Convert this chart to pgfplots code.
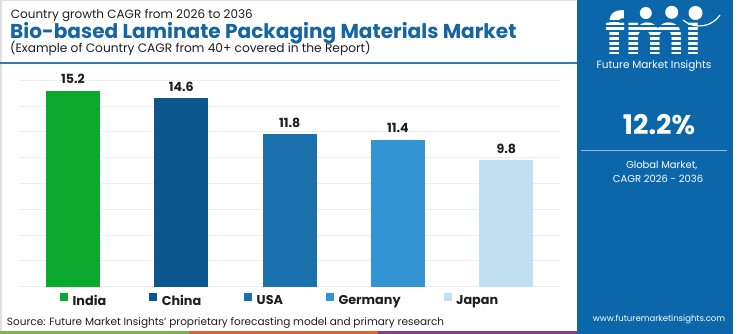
\documentclass[border=0pt]{standalone}
\usepackage{pgfplots}
\pgfplotsset{compat=1.18}
\usepackage{fontspec}
\setmainfont{Poppins}
\definecolor{cIndia}{HTML}{0BAA2E}
\definecolor{cChina}{HTML}{0A568D}
\definecolor{cUSA}{HTML}{1A71AD}
\definecolor{cGermany}{HTML}{3394D4}
\definecolor{cJapan}{HTML}{C3E0F2}
\definecolor{panel}{HTML}{0B67AA}
\definecolor{titleblue}{HTML}{1565A5}
\definecolor{titleline}{HTML}{2B7BBE}
\definecolor{gridc}{HTML}{EEEEEE}
\definecolor{sgreen}{HTML}{7CB342}
\definecolor{sorange}{HTML}{E0622A}
\definecolor{spurple}{HTML}{8E3A8E}
\definecolor{txt}{HTML}{1E1E1E}
\begin{document}
\begin{tikzpicture}[x=1pt,y=1pt]
\useasboundingbox (0,0) rectangle (750,334);
\fill[white] (0,0) rectangle (750,334);
% frame of chart area
\draw[black!12, line width=1.5pt] (0.75,3) -- (0.75,333.25) -- (576,333.25);
% bottom strip
\fill[sgreen] (0,0) rectangle (189,2.6);
\fill[sorange] (189,0) rectangle (378,2.6);
\fill[spurple] (378,0) rectangle (577,2.6);
% right panel
\fill[panel] (577,0) rectangle (733,334);
% title rule
\draw[titleline, line width=1.3pt] (0,271) -- (577,271);
% titles
\node[anchor=base west, inner sep=0pt, text=txt, font=\fontsize{12}{14}\selectfont] at (10.7,315.9) {Country growth CAGR from 2026 to 2036};
\node[anchor=base west, inner sep=0pt, text=titleblue, font=\fontsize{20.1}{24}\selectfont\bfseries] at (10,295.8) {Bio-based Laminate Packaging Materials Market};
\node[anchor=base west, inner sep=0pt, text=txt, font=\fontsize{12.2}{14}\selectfont] at (10,281.6) {(Example of Country CAGR from 40+ covered in the Report)};
% source
\node[anchor=base west, inner sep=0pt, text=txt, font=\fontsize{10.5}{13}\selectfont] at (6.7,8.3) {Source: Future Market Insights’ proprietary forecasting model and primary research};
% panel logo
\node[anchor=base, inner sep=0pt, text=white, font=\fontsize{56}{56}\selectfont\bfseries] at (654,279) {fmı};
\foreach \yy in {283,288,293,298,303,308,313}{
  \draw[panel, line width=1.1pt] (595,\yy) -- (715,\yy);
}
\fill[white] (645.8,321) circle (6);
\fill[white] (671.7,321.7) circle (6.5);
\fill[white] (695.5,321) circle (7);
\draw[white, line width=1.2pt] (683,314) .. controls (695,304) and (712,307) .. (720,319);
\node[anchor=base, inner sep=0pt, text=white, font=\fontsize{10.5}{12}\selectfont] at (654,265) {Future Market Insights};
\node[anchor=base, inner sep=0pt, text=white, font=\fontsize{27}{30}\selectfont\bfseries] at (659,199) {12.2\%};
\draw[white!55!panel, line width=1pt] (581,183.7) -- (727,183.7);
\node[anchor=base, inner sep=0pt, text=white, font=\fontsize{10}{12}\selectfont] at (661.7,165) {Global Market,};
\node[anchor=base, inner sep=0pt, text=white, font=\fontsize{10}{12}\selectfont] at (658,151) {CAGR 2026 - 2036};
\node[anchor=base, inner sep=0pt, text=white, font=\fontsize{8.5}{10}\selectfont] at (659,12) {www.futuremarketinsights.com};
\begin{axis}[
  at={(18.9pt,47.3pt)}, anchor=south west,
  scale only axis, width=541.5pt, height=206.4pt,
  xmin=-0.5, xmax=4.5, ymin=0, ymax=16,
  axis line style={draw=none},
  major tick length=0pt,
  xtick=\empty,
  ytick={0,2,...,16}, yticklabels={},
  ymajorgrids, grid style={draw=gridc, line width=0.8pt},
  /pgf/number format/assume math mode=true,
  /pgf/number format/fixed, /pgf/number format/precision=1,
  nodes near coords,
  nodes near coords style={font=\fontsize{12.6}{13}\selectfont\bfseries, text=txt, anchor=south, inner sep=0pt, yshift=6.4pt},
  legend columns=5,
  legend cell align=left,
  legend image code/.code={\fill[#1] (0pt,0pt) rectangle (8pt,8pt);},
  legend style={at={(0.0759,-0.0644)}, anchor=west, draw=none, fill=none, inner sep=0pt,
    font=\fontsize{12.8}{13}\selectfont\bfseries, text=txt,
    nodes={inner sep=0pt},
    /tikz/every odd column/.style={column sep=4.5pt},
    /tikz/every even column/.style={column sep=43pt}},
]
\addplot[ybar, bar width=54pt, bar shift=0pt, fill=cIndia, draw=none] coordinates {(0,15.2)};
\addlegendentry{India}
\addplot[ybar, bar width=54pt, bar shift=0pt, fill=cChina, draw=none] coordinates {(1,14.6)};
\addlegendentry{China}
\addplot[ybar, bar width=54pt, bar shift=0pt, fill=cUSA, draw=none] coordinates {(2,11.8)};
\addlegendentry{USA}
\addplot[ybar, bar width=54pt, bar shift=0pt, fill=cGermany, draw=none] coordinates {(3,11.4)};
\addlegendentry{Germany}
\addplot[ybar, bar width=54pt, bar shift=0pt, fill=cJapan, draw=none] coordinates {(4,9.8)};
\addlegendentry{Japan}
\end{axis}
\end{tikzpicture}
\end{document}
